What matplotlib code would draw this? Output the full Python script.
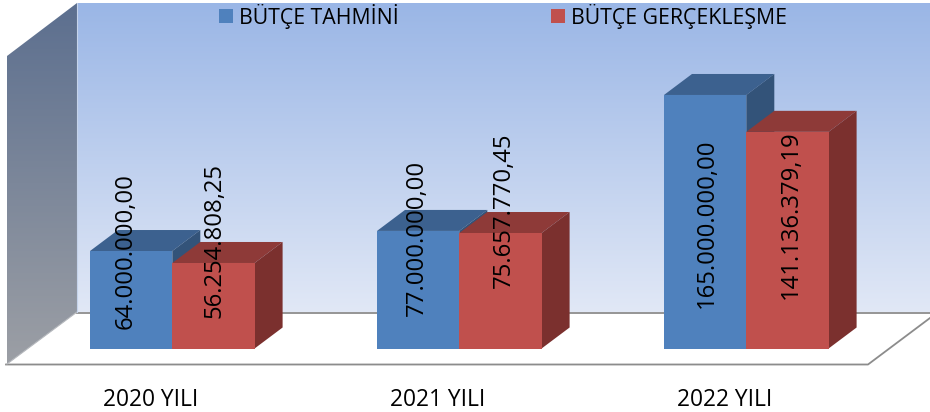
import numpy as np
import matplotlib
matplotlib.use('Agg')
import matplotlib.pyplot as plt
from matplotlib.patches import Polygon, Rectangle

years = ['2020 YILI', '2021 YILI', '2022 YILI']
tahmin = [64000000.00, 77000000.00, 165000000.00]
gercek = [56254808.25, 75657770.45, 141136379.19]
tahmin_labels = ['64.000.000,00', '77.000.000,00', '165.000.000,00']
gercek_labels = ['56.254.808,25', '75.657.770,45', '141.136.379,19']
legend_names = ['BÜTÇE TAHMİNİ', 'BÜTÇE GERÇEKLEŞME']

# pixel layout, value axis is in plain budget units
W, H = 930, 412
ZERO_Y = 349.9
PX_PER_UNIT = 1.545 / 1e6
BAR_W = 82.3
DX, DY = 28, 21
GROUP_X = [90, 377, 664]
BAR_BOTTOM = 348.5
TAHMIN_TEXT_X = [126, 417, 707]
GERCEK_TEXT_X = [214, 504, 791]
TAHMIN_TEXT_BOTTOM = [329, 316, 308]
GERCEK_TEXT_BOTTOM = [318, 288, 299]

FONT = 'Open Sans'
plt.rcParams['font.family'] = [FONT, 'DejaVu Sans']


def val(py):
    # screen y to value
    return (ZERO_Y - py) / PX_PER_UNIT


def poly(ax, pts, **kw):
    p = Polygon([(x, val(y)) for x, y in pts], closed=True, **kw)
    ax.add_patch(p)
    return p


def gradient(ax, top, bottom, extent, clip, n=256):
    c0 = np.array(matplotlib.colors.to_rgb(top))
    c1 = np.array(matplotlib.colors.to_rgb(bottom))
    t = np.linspace(0, 1, n)[:, None, None]
    img = c0[None, None, :] * (1 - t) + c1[None, None, :] * t
    x0, x1, y0, y1 = extent
    im = ax.imshow(img, extent=(x0, x1, val(y1), val(y0)), aspect='auto',
                   origin='upper', zorder=1, interpolation='bilinear')
    im.set_clip_path(clip)


def bar3d(ax, x, value, front, top, side, zorder):
    h = value * PX_PER_UNIT
    ytop = ZERO_Y - h
    bottom = val(BAR_BOTTOM)
    ax.bar(x, value - bottom, width=BAR_W, bottom=bottom, align='edge',
           color=front, linewidth=0, zorder=zorder + 0.2)
    poly(ax, [(x, ytop), (x + DX, ytop - DY), (x + BAR_W + DX, ytop - DY), (x + BAR_W, ytop)],
         facecolor=top, edgecolor='none', zorder=zorder)
    poly(ax, [(x + BAR_W, ytop), (x + BAR_W + DX, ytop - DY),
              (x + BAR_W + DX, BAR_BOTTOM - DY), (x + BAR_W, BAR_BOTTOM)],
         facecolor=side, edgecolor='none', zorder=zorder + 0.1)


fig = plt.figure(figsize=(W / 100, H / 100), dpi=100)
ax = fig.add_axes([0, 0, 1, 1])
ax.set_xlim(0, W)
ax.set_ylim(val(H), val(0))
ax.axis('off')

# back wall
back = poly(ax, [(77, 3), (W, 3), (W, 312), (77, 312)], facecolor='none', edgecolor='none')
gradient(ax, '#9ab6e6', '#e1e8f6', (77, W, 3, 312), back)
# left wall
left = poly(ax, [(77, 3), (7, 56), (7, 364), (77, 312)], facecolor='none', edgecolor='none')
gradient(ax, '#5c6f8f', '#9c9fa5', (7, 77, 3, 364), left)

# floor
ax.plot([77, W], [val(312.5), val(312.5)], color='#8c8c8c', lw=1.3, zorder=2)
ax.plot([6, 868, W], [val(364.5), val(364.5), val(318)], color='#8c8c8c', lw=1.3, zorder=2)
ax.plot([7, 77], [val(364), val(312)], color='#b5b8bd', lw=0.8, zorder=2)
ax.plot([77, 77], [val(3), val(312)], color='#c5d3ea', lw=0.8, zorder=2)

for i, x in enumerate(GROUP_X):
    bar3d(ax, x, tahmin[i], '#4f81bd', '#3c618f', '#335379', 3 + i)
    bar3d(ax, x + BAR_W, gercek[i], '#c0504d', '#8e3a38', '#7b302e', 3.5 + i)
    ax.text(TAHMIN_TEXT_X[i], val(TAHMIN_TEXT_BOTTOM[i]), tahmin_labels[i], rotation=90,
            ha='center', va='bottom', fontsize=17.2, color='black', zorder=10)
    ax.text(GERCEK_TEXT_X[i], val(GERCEK_TEXT_BOTTOM[i]), gercek_labels[i], rotation=90,
            ha='center', va='bottom', fontsize=17.2, color='black', zorder=10)
    ax.text(x + 60.5, val(399.5), years[i], ha='center', va='center', fontsize=16.4, color='black')

# legend
for name, lx, color in zip(legend_names, [219, 551], ['#4f81bd', '#c0504d']):
    ax.add_patch(Rectangle((lx, val(23)), 14, val(9) - val(23), facecolor=color,
                           edgecolor='none', zorder=10))
    ax.text(lx + 20, val(17), name, ha='left', va='center', fontsize=15.3, color='black', zorder=10)

fig.savefig('out.png', dpi=100)
